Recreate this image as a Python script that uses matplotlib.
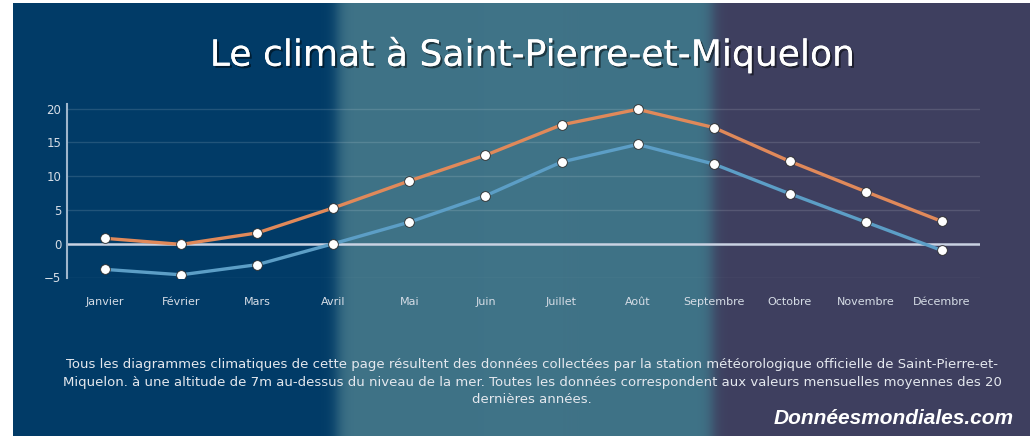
import numpy as np
import matplotlib.pyplot as plt
import matplotlib.patheffects as pe
from matplotlib.colors import to_rgb

months = ["Janvier", "Février", "Mars", "Avril", "Mai", "Juin",
          "Juillet", "Août", "Septembre", "Octobre", "Novembre", "Décembre"]
temp_max = [0.8, -0.1, 1.6, 5.3, 9.3, 13.1, 17.6, 19.9, 17.2, 12.2, 7.7, 3.3]
temp_min = [-3.8, -4.6, -3.1, 0.0, 3.2, 7.1, 12.1, 14.7, 11.8, 7.4, 3.2, -1.0]
y_ticks = [-5, 0, 5, 10, 15, 20]

title = "Le climat à Saint-Pierre-et-Miquelon"
note = ("Tous les diagrammes climatiques de cette page résultent des données collectées par la station météorologique officielle de Saint-Pierre-et-\n"
        "Miquelon. à une altitude de 7m au-dessus du niveau de la mer. Toutes les données correspondent aux valeurs mensuelles moyennes des 20\n"
        "dernières années.")
brand = "Donnéesmondiales.com"

W, H = 1030, 436
fig = plt.figure(figsize=(W / 100, H / 100), dpi=100)
fig.patch.set_facecolor("white")

# background: three vertical colour bands with soft edges
bg = fig.add_axes([13 / W, 0, 1 - 13 / W, 1 - 3 / H])
bg.set_axis_off()
cols = np.arange(13, W)
c1, c2, c3 = (np.array(to_rgb(c)) for c in ("#013b67", "#3f7387", "#3e3f5f"))
w1 = 1 / (1 + np.exp(-(cols - 337) / 4.0))
w2 = 1 / (1 + np.exp(-(cols - 712) / 4.0))
row = c1 * (1 - w1)[:, None] + c2 * (w1 - w2)[:, None] + c3 * w2[:, None]
bg.imshow(row[None, :, :], aspect="auto", extent=[0, 1, 0, 1])
bg.set_xlim(0, 1)
bg.set_ylim(0, 1)

# main chart
ax = fig.add_axes([67 / W, (H - 277.5) / H, (980 - 67) / W, (277.5 - 103.9) / H])
ax.patch.set_alpha(0)
x = np.arange(len(months))

for yv in y_ticks:
    if yv == 0:
        ax.axhline(yv, color="#c9d2e2", lw=1.8, zorder=1)
    else:
        ax.axhline(yv, color="white", alpha=0.13, lw=1.0, zorder=1)

ax.plot(x, temp_max, color="#e0895a", lw=2.4, zorder=3,
        marker="o", ms=7, mfc="white", mec="#2a2a2a", mew=0.6)
ax.plot(x, temp_min, color="#5c9ec6", lw=2.4, zorder=3,
        marker="o", ms=7, mfc="white", mec="#2a2a2a", mew=0.6)

ax.set_xlim(-0.5, 11.5)
ax.set_ylim(-5, 20.7)
ax.set_yticks(y_ticks)
ax.set_xticks(x)
ax.set_xticklabels(months)
for s in ("top", "right", "bottom"):
    ax.spines[s].set_visible(False)
ax.spines["left"].set_color("#9fb6cc")
ax.spines["left"].set_linewidth(1.5)
ax.tick_params(axis="y", length=0, pad=4, labelcolor="#d6dde6", labelsize=8.5)
ax.tick_params(axis="x", length=0, pad=14, labelcolor="#d6dde6", labelsize=8)

fig.text(532 / W, 1 - 55 / H, title, ha="center", va="center",
         fontsize=26, color="white",
         path_effects=[pe.withSimplePatchShadow(offset=(1.5, -1.5), shadow_rgbFace="black", alpha=0.5),
                       pe.Normal()])

fig.text(532 / W, 1 - 382 / H, note, ha="center", va="center",
         fontsize=9.5, color="#e4e8ee", linespacing=1.45,
         family=["Liberation Sans Narrow", "DejaVu Sans"])

fig.text(1014 / W, 1 - 418 / H, brand, ha="right", va="center",
         fontsize=15, color="white", weight="bold", style="italic",
         family=["Liberation Sans", "DejaVu Sans"])

fig.savefig("out.png", dpi=100)
